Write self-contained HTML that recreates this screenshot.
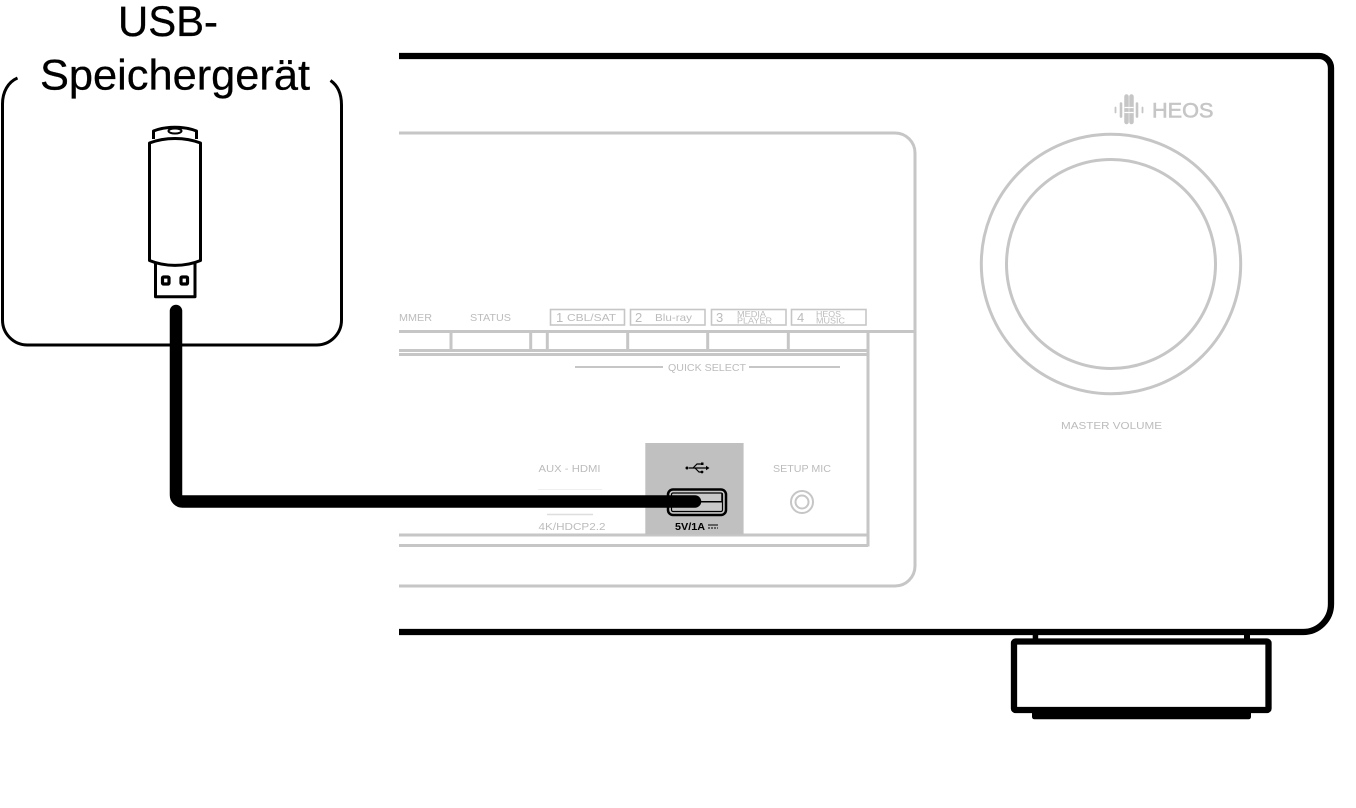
<!DOCTYPE html>
<html><head><meta charset="utf-8"><style>
html,body{margin:0;padding:0;background:#fff;width:1356px;height:808px;overflow:hidden}
svg{display:block}
text{font-family:"Liberation Sans",sans-serif}
.g{fill:#bcbcbc;font-size:10.5px}
</style></head><body>
<svg width="1356" height="808" viewBox="0 0 1356 808" xmlns="http://www.w3.org/2000/svg">
<defs><filter id="b" x="-5%" y="-5%" width="110%" height="110%"><feGaussianBlur stdDeviation="0.35"/></filter></defs>
<rect width="1356" height="808" fill="#fff"/>

<g filter="url(#b)">
<!-- gray panel -->
<g fill="none" stroke="#c6c6c6" stroke-width="3">
<path d="M399 133H895a20 20 0 0 1 20 20V566a20 20 0 0 1-20 20H399"/>
<path d="M399 331.500H915"/>
<path d="M399 350.500H868M399 354.500H868"/>
<path d="M868 331V546.500"/>
<path d="M399 535H868M399 545.500H868"/>
<path d="M451 331V351M530.700 331V351M547.300 331V351M627.700 331V351M707.700 331V351M788.300 331V351"/>
</g>
<g fill="none" stroke="#c6c6c6" stroke-width="1.600">
<rect x="550.500" y="309.500" width="74" height="15.500"/>
<rect x="630.500" y="309.500" width="74.500" height="15.500"/>
<rect x="711.500" y="309.500" width="74.500" height="15.500"/>
<rect x="791.500" y="309.500" width="74.500" height="15.500"/>
</g>
<path d="M575 367H663M749 367H840" stroke="#c6c6c6" stroke-width="2" fill="none"/>
<path d="M538 489.500H602" stroke="#efefef" stroke-width="1" fill="none"/>
<path d="M547 514.500H593" stroke="#dedede" stroke-width="1.500" fill="none"/>

<g class="g">
<text x="399" y="321" textLength="33" lengthAdjust="spacingAndGlyphs" class="g">MMER</text>
<text x="470" y="321" textLength="41" lengthAdjust="spacingAndGlyphs" class="g">STATUS</text>
<text x="556" y="322" style="font-size:13px">1</text>
<text x="567" y="321" textLength="49" lengthAdjust="spacingAndGlyphs" class="g">CBL/SAT</text>
<text x="635" y="322" style="font-size:13px">2</text>
<text x="655" y="321" textLength="37" lengthAdjust="spacingAndGlyphs" class="g">Blu-ray</text>
<text x="716" y="322" style="font-size:13px">3</text>
<text x="737" y="317" textLength="29" lengthAdjust="spacingAndGlyphs" style="font-size:8px">MEDIA</text>
<text x="737" y="323.500" textLength="35" lengthAdjust="spacingAndGlyphs" style="font-size:8px">PLAYER</text>
<text x="797" y="322" style="font-size:13px">4</text>
<text x="816" y="317" textLength="25" lengthAdjust="spacingAndGlyphs" style="font-size:8px">HEOS</text>
<text x="816" y="323.500" textLength="29" lengthAdjust="spacingAndGlyphs" style="font-size:8px">MUSIC</text>
<text x="668" y="371" textLength="78" lengthAdjust="spacingAndGlyphs" class="g">QUICK SELECT</text>
<text x="538.500" y="472" textLength="62" lengthAdjust="spacingAndGlyphs" class="g">AUX - HDMI</text>
<text x="538.500" y="530" textLength="67" lengthAdjust="spacingAndGlyphs" class="g">4K/HDCP2.2</text>
<text x="773" y="472" textLength="58" lengthAdjust="spacingAndGlyphs" class="g">SETUP MIC</text>
<text x="1061" y="429" textLength="101" lengthAdjust="spacingAndGlyphs" class="g">MASTER VOLUME</text>
</g>

<!-- mic jack -->
<circle cx="802" cy="502" r="11" fill="none" stroke="#c6c6c6" stroke-width="2"/>
<circle cx="802" cy="502" r="6.500" fill="none" stroke="#c6c6c6" stroke-width="2"/>

<!-- usb highlight -->
<rect x="645.300" y="443" width="98.300" height="91.500" fill="#c0c0c0"/>

<!-- dial -->
<circle cx="1111" cy="264" r="129.700" fill="none" stroke="#c6c6c6" stroke-width="3"/>
<circle cx="1111" cy="264" r="104.500" fill="none" stroke="#c6c6c6" stroke-width="3"/>

<!-- HEOS -->
<text x="1152" y="117.300" textLength="61.500" lengthAdjust="spacingAndGlyphs" font-size="21.500" fill="#c6c6c6" stroke="#c6c6c6" stroke-width="0.600">HEOS</text>
<g fill="none" stroke="#c6c6c6" stroke-linecap="round">
<path d="M1115.500 107.500V112.500M1142.500 107.500V112.500" stroke-width="1.800"/>
<path d="M1121 103.500V116.500M1137 103.500V116.500" stroke-width="2.600"/>
<path d="M1126.500 96.500V122M1131.500 96.500V122" stroke-width="4.500"/>
</g>
<path d="M1124.500 107.500H1133.500" stroke="#fff" stroke-width="1.200" fill="none"/>
<path d="M1124.500 112.500H1133.500" stroke="#fff" stroke-width="1.200" fill="none"/>
</g>

<!-- usb glyph and port -->
<g stroke="#000" fill="none" stroke-width="1.200">
<path d="M689 468H706"/>
<path d="M693 468L697 464H701M695 468L699 472H701"/>
</g>
<circle cx="687" cy="468" r="1.500" fill="#000"/>
<path d="M706 465.800L709.500 468L706 470.200Z" fill="#000"/>
<rect x="701" y="462.500" width="2.500" height="2.500" fill="#000"/>
<circle cx="702" cy="472" r="1.400" fill="#000"/>
<rect x="668" y="489.500" width="58" height="25.500" rx="5" fill="#c8c8c8" stroke="#000" stroke-width="2.500"/>
<rect x="671.500" y="493" width="51" height="18.500" rx="1.500" fill="#c8c8c8" stroke="#000" stroke-width="1.200"/>
<path d="M696 501.800H722V493" fill="none" stroke="#000" stroke-width="1.500"/>
<text x="675" y="530" textLength="30" lengthAdjust="spacingAndGlyphs" font-size="10.500" font-weight="bold" fill="#000">5V/1A</text>
<path d="M708 525H718" stroke="#000" stroke-width="1" fill="none"/>
<path d="M708 528H718" stroke="#000" stroke-width="1" stroke-dasharray="2 1" fill="none"/>

<!-- chassis -->
<path d="M399 56H1319a12 12 0 0 1 12 12V604a28 28 0 0 1-28 28H399" fill="none" stroke="#000" stroke-width="6.300"/>

<!-- foot -->
<rect x="1032.700" y="634" width="5.500" height="7" fill="#000"/>
<rect x="1244" y="634" width="6" height="7" fill="#000"/>
<rect x="1014" y="641.500" width="254.500" height="68.500" rx="1.500" fill="#fff" stroke="#000" stroke-width="6.300"/>
<rect x="1032" y="707" width="219" height="12.300" rx="2.500" fill="#000"/>

<!-- group box -->
<path d="M17.500 78C8 82 2.500 92 2.500 104V320a25 25 0 0 0 25 25H316.500a25 25 0 0 0 25-25V105C341.500 93 337 85 330.500 80.500" fill="none" stroke="#000" stroke-width="3"/>

<!-- labels -->
<text x="118" y="36" textLength="100" lengthAdjust="spacingAndGlyphs" font-size="42.500" fill="#000" stroke="#000" stroke-width="0.300">USB-</text>
<text x="40" y="89.500" textLength="270" lengthAdjust="spacingAndGlyphs" font-size="42.500" fill="#000" stroke="#000" stroke-width="0.300">Speichergerät</text>

<!-- usb stick -->
<g fill="#fff" stroke="#000" stroke-width="3" stroke-linejoin="round">
<path d="M153.500 139V131C166 126 184 126 196.500 131V139"/>
<ellipse cx="175" cy="131" rx="6.500" ry="2.500" stroke-width="2"/>
<path d="M155.500 262V296.800H195V262"/>
<path d="M149.500 143C165 137 185 137 200.500 143V260.500C185 267 165 267 149.500 260.500Z"/>
</g>
<g fill="#fff" stroke="#000" stroke-width="3.200">
<rect x="162.500" y="277" width="6.500" height="7" rx="1"/>
<rect x="181" y="277" width="6.500" height="7" rx="1"/>
</g>

<!-- cable -->
<path d="M176 311V495a6.500 6.500 0 0 0 6.500 6.500H695" fill="none" stroke="#000" stroke-width="12.500" stroke-linecap="round"/>
</svg>
</body></html>
